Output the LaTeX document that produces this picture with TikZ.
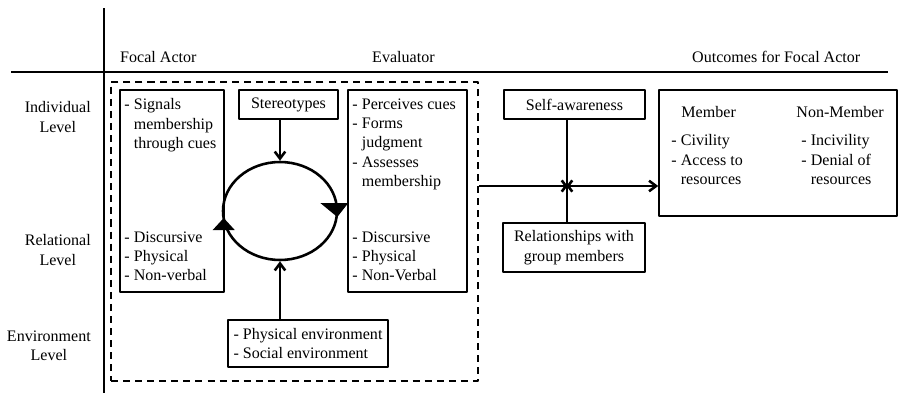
\documentclass[tikz,border=0pt]{standalone}
\usepackage{fontspec}
\setmainfont{Liberation Serif}
\usetikzlibrary{arrows.meta,shapes.geometric}
\newcommand\indentpad{\hphantom{- }}
\begin{document}
\begin{tikzpicture}[x=0.03cm, y=-0.03cm, >={Straight Barb[length=6pt,width=9pt]},
	font=\fontsize{13.7}{16.6}\selectfont, line join=round,
	box/.style={draw, line width=1.3pt, inner sep=0pt},
	txt/.style={inner sep=0pt, anchor=north west, align=left},
	level/.style={inner sep=0pt, anchor=east, align=center},
	flow/.style={->, line width=2.2pt}]
	\useasboundingbox (0,0) rectangle (898,393);
	% axes
	\draw[line width=1.8pt] (104,8) -- (104,393);
	\draw[line width=1.8pt] (11,72) -- (888,72);
	% column and row headings
	\node[inner sep=0pt, anchor=base west] (hfocal) at (120,62) {Focal Actor};
	\node[inner sep=0pt, anchor=base west] (heval) at (372,62) {Evaluator};
	\node[inner sep=0pt, anchor=base west] (hout) at (692,62) {Outcomes for Focal Actor};
	\node[level] (lind) at (91,117) {Individual\\Level};
	\node[level] (lrel) at (91,250) {Relational\\Level};
	\node[level] (lenv) at (91,346) {Environment\\Level};
	% dashed frame
	\node[box, dashed, dash pattern=on 6pt off 4.3pt, minimum width=11.01cm, minimum height=8.97cm] (frame) at (294.5,231.5) {};
	% boxes
	\node[box, minimum width=3.12cm, minimum height=6.06cm] (focal) at (172,191) {};
	\node[box, minimum width=2.97cm, minimum height=0.87cm] (stereo) at (288.5,104.5) {Stereotypes};
	\node[box, minimum width=3.57cm, minimum height=6.06cm] (eval) at (407.5,191) {};
	\node[box, align=left, minimum width=4.8cm, minimum height=1.41cm] (env) at (308,343.5) {- Physical environment\\- Social environment};
	\node[box, minimum width=4.23cm, minimum height=0.87cm] (self) at (574.5,104.5) {Self-awareness};
	\node[box, align=center, minimum width=4.26cm, minimum height=1.47cm] (rel) at (574,247.5) {Relationships with\\group members};
	\node[box, minimum width=7.14cm, minimum height=3.78cm] (out) at (778,153) {};
	% box contents
	\node[txt] (fcues) at ([shift={(5,9)}]focal.north west) {- Signals\\\indentpad membership\\\indentpad through cues};
	\node[txt] (fmodes) at ([shift={(5,142)}]focal.north west) {- Discursive\\- Physical\\- Non-verbal};
	\node[txt] (ejudge) at ([shift={(5,9)}]eval.north west) {- Perceives cues\\- Forms\\\indentpad judgment\\- Assesses\\\indentpad membership};
	\node[txt] (emodes) at ([shift={(5,142)}]eval.north west) {- Discursive\\- Physical\\- Non-Verbal};
	\node[txt] (member) at ([shift={(23,17)}]out.north west) {Member};
	\node[txt] (nonmember) at ([shift={(138,17)}]out.north west) {Non-Member};
	\node[txt] (mlist) at ([shift={(13,45)}]out.north west) {- Civility\\- Access to\\\indentpad resources};
	\node[txt] (nlist) at ([shift={(143,45)}]out.north west) {- Incivility\\- Denial of\\\indentpad resources};
	% cycle
	\node[draw, ellipse, line width=2.2pt, minimum width=3.42cm, minimum height=2.94cm] (cycle) at (280,211) {};
	\fill ([shift={(2,7)}]cycle.west) -- ([shift={(-9,19)}]cycle.west) -- ([shift={(13,19)}]cycle.west) -- cycle;
	\fill ([shift={(-1,6)}]cycle.east) -- ([shift={(-18,-8)}]cycle.east) -- ([shift={(10,-8)}]cycle.east) -- cycle;
	\draw[flow] (stereo.south -| cycle.north) -- (cycle.north);
	\draw[flow] (env.north -| cycle.south) -- (cycle.south);
	% outcome link
	\coordinate (join) at (567,186);
	\draw[flow] (join -| frame.east) -- (join -| out.west);
	\draw[flow] (self.south -| join) -- ([yshift=-3]join);
	\draw[flow] (rel.north -| join) -- ([yshift=3]join);
\end{tikzpicture}
\end{document}
